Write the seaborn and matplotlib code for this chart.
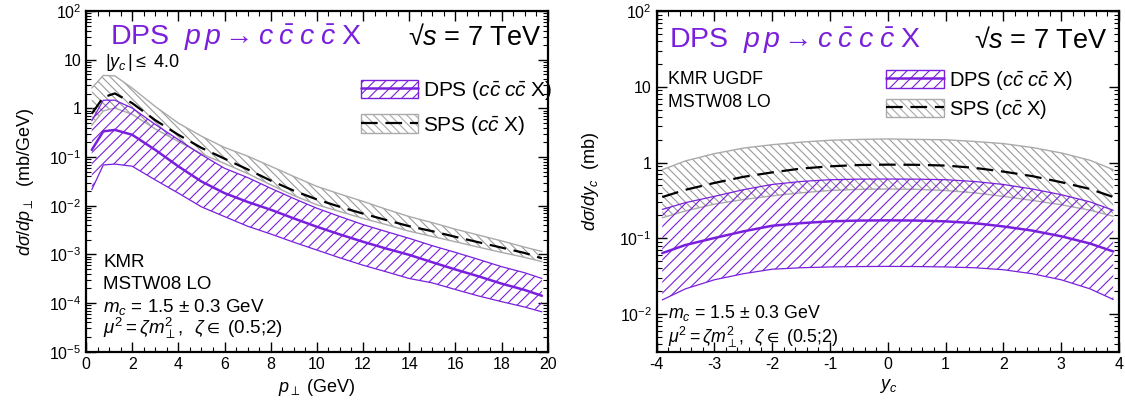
import numpy as np
import pandas as pd
import matplotlib
matplotlib.use("Agg")
import matplotlib.pyplot as plt
import seaborn as sns
from matplotlib.patches import Patch
from matplotlib.lines import Line2D
from matplotlib.ticker import LogLocator, MultipleLocator, FuncFormatter, NullFormatter

# ---------------- data ----------------
pt = [0.25, 0.75, 1.25, 2, 3, 4, 5, 6, 7, 8, 9, 10, 11, 12, 13, 14, 15, 16, 17, 18, 19, 19.75]
sps_pt_c = [0.78, 1.70, 2.04, 1.29, 0.575, 0.288, 0.155, 0.093, 0.056, 0.033, 0.0204, 0.0135, 0.0095,
            0.0069, 0.0051, 0.0038, 0.0030, 0.0023, 0.00178, 0.00138, 0.00107, 0.00083]
sps_pt_hi = [2.63, 4.79, 4.68, 2.63, 1.10, 0.50, 0.27, 0.158, 0.105, 0.065, 0.040, 0.025, 0.0174,
             0.0123, 0.0085, 0.0060, 0.0045, 0.0033, 0.0025, 0.0019, 0.00141, 0.00115]
sps_pt_lo = [0.45, 0.89, 1.02, 0.76, 0.38, 0.21, 0.117, 0.074, 0.046, 0.027, 0.0162, 0.0105, 0.0076,
             0.0055, 0.0041, 0.0030, 0.00234, 0.00182, 0.00141, 0.0011, 0.00087, 0.00071]
dps_pt_c = [0.141, 0.339, 0.363, 0.288, 0.141, 0.0646, 0.0316, 0.0182, 0.0120, 0.0083, 0.0055, 0.0037,
            0.00257, 0.00182, 0.00132, 0.00098, 0.00069, 0.00049, 0.000355, 0.000251, 0.000186, 0.000141]
dps_pt_hi = [0.56, 1.48, 1.48, 1.02, 0.47, 0.229, 0.112, 0.059, 0.038, 0.0229, 0.0141, 0.0089, 0.0060,
             0.0041, 0.00295, 0.00214, 0.00151, 0.0011, 0.00079, 0.00056, 0.00042, 0.00032]
dps_pt_lo = [0.0214, 0.069, 0.072, 0.065, 0.034, 0.0182, 0.0095, 0.0060, 0.0038, 0.00263, 0.00178,
             0.00123, 0.00085, 0.0006, 0.00044, 0.00032, 0.00026, 0.00019, 0.00014, 0.000107, 0.000083, 0.000066]

yc = [-3.9, -3.5, -3, -2.5, -2, -1.5, -1, -0.5, 0, 0.5, 1, 1.5, 2, 2.5, 3, 3.5, 3.9]
sps_y_hi = [0.805, 1.05, 1.31, 1.55, 1.72, 1.86, 1.97, 2.02, 2.05, 2.02, 2.0, 1.9, 1.78, 1.58, 1.34, 1.07, 0.805]
sps_y_c = [0.35, 0.436, 0.537, 0.646, 0.741, 0.832, 0.891, 0.927, 0.938, 0.933, 0.912, 0.851, 0.759,
           0.661, 0.55, 0.447, 0.35]
sps_y_lo = [0.186, 0.229, 0.282, 0.324, 0.363, 0.398, 0.427, 0.442, 0.447, 0.442, 0.427, 0.398, 0.357,
            0.316, 0.277, 0.234, 0.195]
dps_y_hi = [0.24, 0.295, 0.357, 0.437, 0.513, 0.562, 0.593, 0.603, 0.605, 0.603, 0.593, 0.562, 0.513,
            0.447, 0.376, 0.302, 0.234]
dps_y_c = [0.0635, 0.0813, 0.1005, 0.123, 0.146, 0.158, 0.167, 0.171, 0.172, 0.171, 0.167, 0.158, 0.143,
           0.126, 0.106, 0.085, 0.0668]
dps_y_lo = [0.0153, 0.0214, 0.0282, 0.0339, 0.0389, 0.0407, 0.0417, 0.0422, 0.0424, 0.0422, 0.0417,
            0.0407, 0.0383, 0.0339, 0.0282, 0.0214, 0.0155]

title_txt = r"DPS  $p\,p \rightarrow c\;\bar{c}\;c\;\bar{c}\;\mathrm{X}$"
sqrt_txt = "\u221a$s$ = 7 TeV"
dps_label = r"DPS ($c\bar{c}\;c\bar{c}\;\mathrm{X}$)"
sps_label = r"SPS ($c\bar{c}\;\mathrm{X}$)"

# ---------------- style ----------------
sns.set_theme(style="ticks")
plt.rcParams['font.family'] = ['Liberation Sans', 'DejaVu Sans']
plt.rcParams['mathtext.fontset'] = 'custom'
plt.rcParams['mathtext.rm'] = 'Liberation Sans'
plt.rcParams['mathtext.it'] = 'Liberation Sans:italic'
plt.rcParams['mathtext.bf'] = 'Liberation Sans:bold'
plt.rcParams['mathtext.fallback'] = 'stixsans'
plt.rcParams['hatch.linewidth'] = 0.8
plt.rcParams['axes.unicode_minus'] = False
plt.rcParams['text.color'] = 'black'
plt.rcParams['axes.labelcolor'] = 'black'
plt.rcParams['xtick.color'] = 'black'
plt.rcParams['ytick.color'] = 'black'

PURPLE = '#7a1fdc'
GRAY = '#9a9a9a'

fig = plt.figure(figsize=(11.25, 4.11), dpi=100)
axL = fig.add_axes([86/1125, 1-351.7/411, 461.7/1125, 340.5/411])
axR = fig.add_axes([656.5/1125, 1-351.7/411, 462.5/1125, 340.5/411])

def draw(ax, x, s_lo, s_hi, s_c, d_lo, d_hi, d_c):
    dfs = pd.DataFrame({'x': x, 'c': s_c})
    dfd = pd.DataFrame({'x': x, 'c': d_c})
    ax.fill_between(x, s_lo, s_hi, facecolor='none', edgecolor=GRAY, hatch='\\\\\\\\', linewidth=0, zorder=1)
    ax.plot(x, s_lo, color='#aaaaaa', lw=1.0, zorder=2)
    ax.plot(x, s_hi, color='#aaaaaa', lw=1.0, zorder=2)
    ax.fill_between(x, d_lo, d_hi, facecolor='none', edgecolor=PURPLE, hatch='///', linewidth=0, zorder=3)
    ax.plot(x, d_lo, color=PURPLE, lw=0.9, zorder=4)
    ax.plot(x, d_hi, color=PURPLE, lw=0.9, zorder=4)
    sns.lineplot(data=dfs, x='x', y='c', ax=ax, color='black', lw=1.6, zorder=5,
                 legend=False).lines[-1].set_dashes((7.5, 3.5))
    sns.lineplot(data=dfd, x='x', y='c', ax=ax, color=PURPLE, lw=1.8, zorder=6, legend=False)

draw(axL, pt, sps_pt_lo, sps_pt_hi, sps_pt_c, dps_pt_lo, dps_pt_hi, dps_pt_c)
draw(axR, yc, sps_y_lo, sps_y_hi, sps_y_c, dps_y_lo, dps_y_hi, dps_y_c)

def logfmt(v, pos):
    e = int(round(np.log10(v)))
    if e == 0:
        return "1"
    if e == 1:
        return "10"
    return r"$10^{%d}$" % e

for ax in (axL, axR):
    ax.set_yscale('log')
    ax.yaxis.set_major_locator(LogLocator(base=10, numticks=20))
    ax.yaxis.set_minor_locator(LogLocator(base=10, subs=np.arange(2, 10), numticks=20))
    ax.yaxis.set_major_formatter(FuncFormatter(logfmt))
    ax.yaxis.set_minor_formatter(NullFormatter())
    ax.tick_params(which='both', direction='in', top=True, right=True, labelsize=11.5, colors='black')
    ax.tick_params(which='major', length=7.5, width=1.0)
    ax.tick_params(which='minor', length=3.8, width=0.8)
    for sp in ax.spines.values():
        sp.set_linewidth(1.6)
        sp.set_color('black')
    ax.set_facecolor('white')

axL.set_xlim(0, 20)
axL.set_ylim(1e-5, 100)
axL.xaxis.set_major_locator(MultipleLocator(2))
axL.xaxis.set_minor_locator(MultipleLocator(0.5))
axL.set_xlabel(r"$p_{\perp}$ (GeV)", fontsize=13)
axL.set_ylabel(r"$d\sigma/dp_{\perp}$  (mb/GeV)", fontsize=13, labelpad=9)

axR.set_xlim(-4, 4)
axR.set_ylim(10**-2.5, 100)
axR.xaxis.set_major_locator(MultipleLocator(1))
axR.xaxis.set_minor_locator(MultipleLocator(0.2))
axR.set_xlabel(r"$y_c$", fontsize=13)
axR.set_ylabel(r"$d\sigma/dy_c$  (mb)", fontsize=13, labelpad=13)

# titles
axL.text(0.052, 0.902, title_txt, transform=axL.transAxes, color=PURPLE, fontsize=20.5, va='baseline', ha='left')
axL.text(0.987, 0.902, sqrt_txt, transform=axL.transAxes, color='black', fontsize=19.5, va='baseline', ha='right')
axR.text(0.027, 0.893, title_txt, transform=axR.transAxes, color=PURPLE, fontsize=20.5, va='baseline', ha='left')
axR.text(0.975, 0.893, sqrt_txt, transform=axR.transAxes, color='black', fontsize=19.5, va='baseline', ha='right')

axL.text(0.042, 0.848, r"$|y_c\,| \leq$ 4.0", transform=axL.transAxes, fontsize=13, va='center', ha='left')

for txt, yf in [("KMR", 0.263), ("MSTW08 LO", 0.196), (r"$m_c$ = 1.5 $\pm$ 0.3 GeV", 0.131),
                (r"$\mu^2 = \zeta m^2_{\perp},\;\; \zeta \in$ (0.5;2)", 0.069)]:
    axL.text(0.037, yf, txt, transform=axL.transAxes, fontsize=13.5, va='center', ha='left')

for txt, yf in [("KMR UGDF", 0.799), ("MSTW08 LO", 0.731), (r"$m_c$ = 1.5 $\pm$ 0.3 GeV", 0.113),
                (r"$\mu^2 = \zeta m^2_{\perp},\;\; \zeta \in$ (0.5;2)", 0.043)]:
    axR.text(0.025, yf, txt, transform=axR.transAxes, fontsize=12.8, va='center', ha='left')

# legends
def handles():
    hd = (Patch(facecolor='none', edgecolor=PURPLE, hatch='///', lw=1.0),
          Line2D([], [], color=PURPLE, lw=1.8))
    hs = (Patch(facecolor='none', edgecolor='#aaaaaa', hatch='\\\\\\\\', lw=1.0),
          Line2D([], [], color='black', lw=1.6, dashes=(7.5, 3.5)))
    return [hd, hs]

axL.legend(handles(), [dps_label, sps_label], loc='upper left', bbox_to_anchor=(0.595, 0.80),
           frameon=False, fontsize=15, handlelength=2.75, handleheight=1.0, labelspacing=0.55,
           handletextpad=0.25, borderaxespad=0, borderpad=0)
axR.legend(handles(), [dps_label, sps_label], loc='upper left', bbox_to_anchor=(0.497, 0.83),
           frameon=False, fontsize=14.5, handlelength=2.85, handleheight=1.0, labelspacing=0.28,
           handletextpad=0.25, borderaxespad=0, borderpad=0)

fig.savefig("out.png", dpi=100)
